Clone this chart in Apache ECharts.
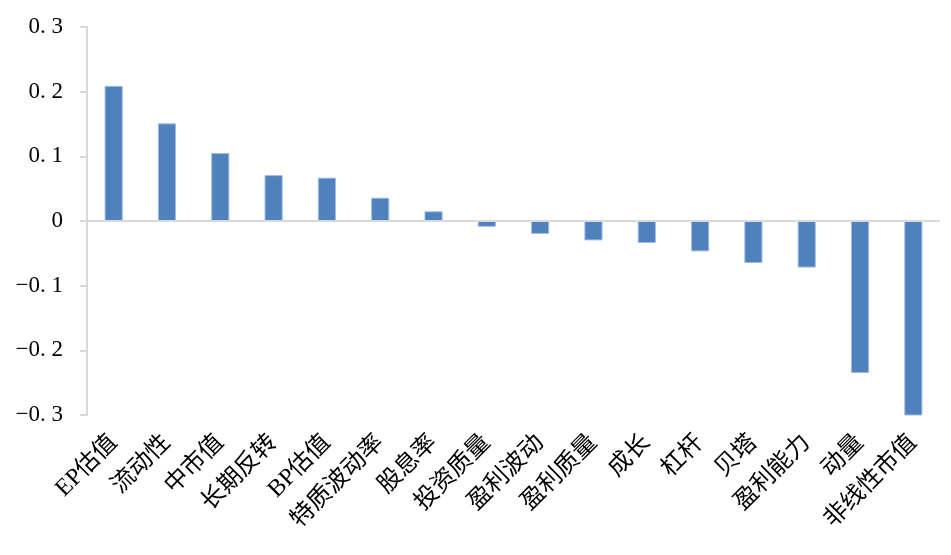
<!DOCTYPE html>
<html>
<head>
<meta charset="utf-8">
<script src="https://cdn.jsdelivr.net/npm/echarts@6/dist/echarts.min.js"></script>
<style>html,body{margin:0;padding:0;background:#fff;}#c{width:951px;height:555px;}</style>
</head>
<body>
<div id="c"></div>
<script>
var categories = ['EP估值','流动性','中市值','长期反转','BP估值','特质波动率','股息率','投资质量','盈利波动','盈利质量','成长','杠杆','贝塔','盈利能力','动量','非线性市值'];
var values = [0.209, 0.151, 0.105, 0.071, 0.067, 0.036, 0.015, -0.009, -0.020, -0.030, -0.034, -0.047, -0.065, -0.072, -0.235, -0.301];
var yTickValues = [-0.3, -0.2, -0.1, 0, 0.1, 0.2, 0.3];
var yTickLabels = ['\u22120. 3', '\u22120. 2', '\u22120. 1', '0', '0. 1', '0. 2', '0. 3'];

var chart = echarts.init(document.getElementById('c'), null, {renderer: 'canvas'});
chart.setOption({
  animation: false,
  backgroundColor: '#ffffff',
  grid: {left: 87, right: 11, top: 27, bottom: 140, containLabel: false},
  xAxis: {
    type: 'category',
    data: categories,
    axisLine: {show: false, onZero: false},
    axisTick: {show: false},
    axisLabel: {
      interval: 0,
      rotate: 45,
      margin: 24,
      fontSize: 24,
      color: '#000',
      fontFamily: '"Liberation Serif", "Noto Sans CJK SC", serif'
    }
  },
  yAxis: {
    type: 'value',
    min: -0.3,
    max: 0.3,
    interval: 0.1,
    axisLine: {show: true, lineStyle: {color: '#d9d9d9', width: 2}},
    axisTick: {show: true, length: 7, lineStyle: {color: '#d9d9d9', width: 2}},
    splitLine: {show: false},
    axisLabel: {
      margin: 24,
      fontSize: 23,
      color: '#000',
      fontFamily: '"Liberation Serif", serif',
      formatter: function (v) {
        for (var i = 0; i < yTickValues.length; i++) {
          if (Math.abs(v - yTickValues[i]) < 1e-6) return yTickLabels[i];
        }
        return '';
      }
    }
  },
  series: [{
    type: 'bar',
    data: values,
    barCategoryGap: '66%',
    itemStyle: {color: '#4f81bd', borderColor: '#9fbbe0', borderWidth: 1},
    markLine: {
      silent: true,
      symbol: 'none',
      label: {show: false},
      lineStyle: {color: '#d9d9d9', width: 2, type: 'solid'},
      data: [{yAxis: 0}]
    }
  }]
});
</script>
</body>
</html>
